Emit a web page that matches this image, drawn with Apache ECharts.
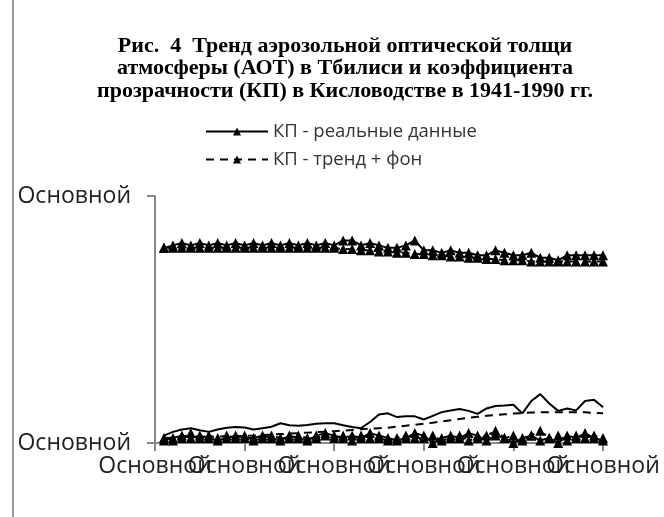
<!DOCTYPE html>
<html>
<head>
<meta charset="utf-8">
<script src="https://cdn.jsdelivr.net/npm/echarts@6/dist/echarts.min.js"></script>
<style>
  html, body { margin: 0; padding: 0; background: #fff; }
  #chart { width: 664px; height: 517px; }
</style>
</head>
<body>
<div id="chart"></div>
<script>
// years 1941-1990
const years = [];
for (let y = 1941; y <= 1990; y++) years.push(y);

// x ticks (every label shows the Excel format name)
const xTicks = [1940, 1950, 1960, 1970, 1980, 1990];

// КП - реальные данные (top, solid with triangles)
const kpReal = [
    0.79, 0.80, 0.81, 0.80, 0.81, 0.80, 0.81, 0.80, 0.81, 0.80,
    0.81, 0.80, 0.81, 0.80, 0.81, 0.80, 0.81, 0.80, 0.81, 0.80,
    0.82, 0.82, 0.80, 0.81, 0.80, 0.79, 0.79, 0.80, 0.82, 0.78,
    0.78, 0.77, 0.78, 0.77, 0.77, 0.76, 0.76, 0.78, 0.77, 0.76,
    0.76, 0.77, 0.75, 0.75, 0.74, 0.76, 0.76, 0.76, 0.76, 0.76
];
// КП - тренд + фон (top, dashed with triangles)
const kpTrend = [
    0.79, 0.79, 0.79, 0.79, 0.79, 0.79, 0.79, 0.79, 0.79, 0.79,
    0.79, 0.79, 0.79, 0.79, 0.79, 0.79, 0.79, 0.79, 0.79, 0.79,
    0.785, 0.785, 0.78, 0.78, 0.775, 0.775, 0.77, 0.77, 0.765, 0.765,
    0.76, 0.76, 0.755, 0.755, 0.75, 0.75, 0.745, 0.745, 0.74, 0.74,
    0.74, 0.735, 0.735, 0.735, 0.735, 0.735, 0.735, 0.735, 0.735, 0.735
];
// АОТ - реальные данные (bottom, solid, no markers)
const aotReal = [
    0.030, 0.045, 0.055, 0.060, 0.052, 0.045, 0.055, 0.062, 0.065, 0.063,
    0.055, 0.060, 0.066, 0.080, 0.072, 0.070, 0.073, 0.078, 0.080, 0.080,
    0.072, 0.065, 0.060, 0.085, 0.115, 0.120, 0.105, 0.108, 0.108, 0.095,
    0.110, 0.125, 0.132, 0.138, 0.130, 0.118, 0.140, 0.150, 0.152, 0.155,
    0.120, 0.170, 0.198, 0.160, 0.130, 0.140, 0.132, 0.170, 0.175, 0.145
];
// АОТ - тренд (bottom, dashed, no markers)
const aotTrend = [
    0.020, 0.021, 0.022, 0.023, 0.024, 0.025, 0.026, 0.027, 0.028, 0.029,
    0.030, 0.032, 0.034, 0.036, 0.038, 0.040, 0.042, 0.044, 0.046, 0.048,
    0.050, 0.053, 0.056, 0.058, 0.060, 0.062, 0.066, 0.070, 0.074, 0.078,
    0.082, 0.087, 0.092, 0.097, 0.102, 0.106, 0.110, 0.113, 0.116, 0.119,
    0.121, 0.123, 0.124, 0.125, 0.125, 0.125, 0.125, 0.124, 0.122, 0.120
];
// bottom triangle series
const botReal = [
    0.01, 0.02, 0.03, 0.02, 0.03, 0.02, 0.01, 0.02, 0.03, 0.02,
    0.02, 0.03, 0.02, 0.01, 0.03, 0.02, 0.01, 0.03, 0.04, 0.03,
    0.02, 0.03, 0.02, 0.04, 0.03, 0.02, 0.01, 0.02, 0.04, 0.03,
    0.00, 0.02, 0.03, 0.02, 0.04, 0.03, 0.01, 0.03, 0.02, 0.00,
    0.02, 0.03, 0.01, 0.02, 0.00, 0.03, 0.02, 0.04, 0.02, 0.01
];
const botTrend = [
    0.02, 0.01, 0.02, 0.04, 0.02, 0.03, 0.02, 0.03, 0.02, 0.03,
    0.01, 0.02, 0.03, 0.02, 0.02, 0.03, 0.02, 0.02, 0.03, 0.02,
    0.03, 0.01, 0.03, 0.02, 0.02, 0.01, 0.02, 0.03, 0.02, 0.02,
    0.03, 0.01, 0.02, 0.03, 0.01, 0.02, 0.03, 0.05, 0.02, 0.03,
    0.01, 0.03, 0.05, 0.02, 0.03, 0.01, 0.03, 0.02, 0.03, 0.02
];

const axisLabel = 'Основной';
const titleLines = [
    'Рис.  4  Тренд аэрозольной оптической толщи',
    'атмосферы (АОТ) в Тбилиси и коэффициента',
    'прозрачности (КП) в Кисловодстве в 1941-1990 гг.'
];

function pairs(vals) {
    return years.map(function (y, i) { return [y, vals[i]]; });
}

let chart = echarts.init(document.getElementById('chart'));

const option = {
    backgroundColor: '#fff',
    animation: false,
    title: {
        text: titleLines.join('\n'),
        left: 340,
        textAlign: 'center',
        top: 30,
        textStyle: {
            fontFamily: 'Liberation Serif',
            fontWeight: 'bold',
            fontSize: 22,
            lineHeight: 22.5,
            color: '#000'
        }
    },
    legend: {
        orient: 'vertical',
        left: 200,
        top: 115,
        itemWidth: 62,
        itemHeight: 10,
        itemGap: 5,
        data: ['КП - реальные данные', 'КП - тренд + фон'],
        textStyle: { fontFamily: 'Open Sans', fontSize: 18.5, color: '#333', lineHeight: 23 }
    },
    grid: { left: 155, right: 61, top: 196, bottom: 74 },
    xAxis: {
        type: 'value',
        min: 1940,
        max: 1990,
        interval: 10,
        axisLine: { lineStyle: { color: '#888', width: 2 } },
        axisTick: { show: true, length: 8, lineStyle: { color: '#888', width: 2 } },
        splitLine: { show: false },
        // labels overlap in the original, drawn below as graphics
        axisLabel: { show: false }
    },
    yAxis: {
        type: 'value',
        min: 0,
        max: 1,
        interval: 1,
        axisLine: { show: true, lineStyle: { color: '#888', width: 2 } },
        axisTick: { show: true, length: 8, lineStyle: { color: '#888', width: 2 } },
        splitLine: { show: false },
        axisLabel: {
            formatter: function () { return axisLabel; },
            showMinLabel: true,
            showMaxLabel: true,
            fontFamily: 'Open Sans', fontSize: 23, color: '#222', margin: 24
        }
    },
    series: [
        {
            name: 'КП - реальные данные', type: 'line', data: pairs(kpReal),
            symbol: 'triangle', symbolSize: 10, showSymbol: true,
            itemStyle: { color: '#000' },
            lineStyle: { color: '#000', width: 2, type: 'solid' }
        },
        {
            name: 'КП - тренд + фон', type: 'line', data: pairs(kpTrend),
            symbol: 'triangle', symbolSize: 10, showSymbol: true,
            itemStyle: { color: '#000' },
            lineStyle: { color: '#000', width: 2, type: [8, 6] }
        },
        {
            name: 'АОТ - реальные данные', type: 'line', data: pairs(aotReal),
            symbol: 'none',
            lineStyle: { color: '#000', width: 2, type: 'solid' }
        },
        {
            name: 'АОТ - тренд', type: 'line', data: pairs(aotTrend),
            symbol: 'none',
            lineStyle: { color: '#000', width: 2, type: [8, 6] }
        },
        {
            name: 'фон - реальные', type: 'line', data: pairs(botReal),
            symbol: 'triangle', symbolSize: 10,
            itemStyle: { color: '#000' },
            lineStyle: { color: '#000', width: 2, type: 'solid' }
        },
        {
            name: 'фон - тренд', type: 'line', data: pairs(botTrend),
            symbol: 'triangle', symbolSize: 10,
            itemStyle: { color: '#000' },
            lineStyle: { color: '#000', width: 2, type: [3, 4] }
        }
    ]
};

chart.setOption(option);

// x labels placed at the axis ticks, overlapping like the original
let graphics = [{
    type: 'line',
    shape: { x1: 13, y1: 0, x2: 13, y2: 517 },
    style: { stroke: '#999', lineWidth: 2 }
}];
xTicks.forEach(function (t) {
    let p = chart.convertToPixel({ xAxisIndex: 0, yAxisIndex: 0 }, [t, 0]);
    graphics.push({
        type: 'text',
        x: p[0],
        y: p[1] + 12,
        style: {
            text: axisLabel,
            align: 'center',
            verticalAlign: 'top',
            fontFamily: 'Open Sans',
            fontSize: 23,
            fill: '#222'
        }
    });
});
chart.setOption({ graphic: graphics });
</script>
</body>
</html>
